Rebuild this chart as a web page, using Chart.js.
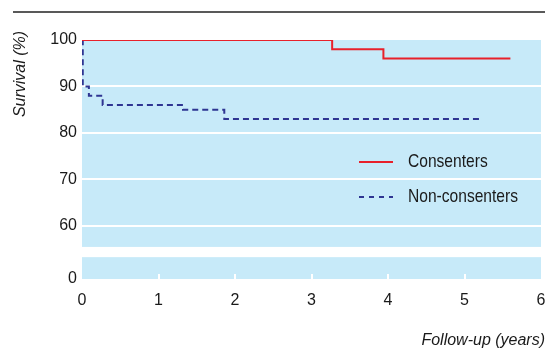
<!DOCTYPE html>
<html>
<head>
<meta charset="utf-8">
<script src="https://cdn.jsdelivr.net/npm/chart.js@4.4.1/dist/chart.umd.min.js"></script>
<style>
    html, body { margin: 0; padding: 0; background: #fff; }
    #wrap { position: relative; width: 545px; height: 349px; }
</style>
</head>
<body>
<div id="wrap"><canvas id="survivalChart"></canvas></div>
<script>
// Kaplan-Meier steps (years, survival %)
const consentersYears = [0, 3.27, 3.94, 5.6];
const consentersSurvival = [100, 98, 96, 96];
const nonConsentersYears = [0, 0.01, 0.09, 0.27, 1.32, 1.86, 5.24];
const nonConsentersSurvival = [100, 90, 88, 86, 85, 83, 83];

const seriesLabels = ['Consenters', 'Non-consenters'];
const xTicks = [0, 1, 2, 3, 4, 5, 6];
const yTicks = [0, 60, 70, 80, 90, 100];

// broken y axis: 0 sits on a short strip below the 55-100 panel
const AXIS_ZERO = 48.6;
const BREAK_LOW = 53.3;
const BREAK_HIGH = 55.5;
const toAxis = v => (v >= BREAK_HIGH ? v : AXIS_ZERO + v);

const FONT = "'Liberation Sans', Arial, sans-serif";
const PANEL_BLUE = '#c7eaf9';
const RED = '#e8212b';
const NAVY = '#2e3592';

document.addEventListener('DOMContentLoaded', () => {
    const ctx = document.getElementById('survivalChart').getContext('2d');

    const toPoints = (xs, ys) => xs.map((x, i) => ({ x: x, y: toAxis(ys[i]) }));

    // 1. background panels, axis break and the rule at the top
    const backdrop = {
        id: 'backdrop',
        beforeDraw(chart) {
            const { ctx, chartArea: a, scales: { y } } = chart;
            ctx.save();
            ctx.fillStyle = PANEL_BLUE;
            const gapTop = y.getPixelForValue(BREAK_HIGH);
            const gapBottom = y.getPixelForValue(BREAK_LOW);
            ctx.fillRect(a.left, a.top, a.right - a.left, gapTop - a.top);
            ctx.fillRect(a.left, gapBottom, a.right - a.left, a.bottom - gapBottom);

            ctx.strokeStyle = '#222';
            ctx.lineWidth = 1.5;
            ctx.beginPath();
            ctx.moveTo(13, 12);
            ctx.lineTo(545, 12);
            ctx.stroke();
            ctx.restore();
        },
        beforeDatasetsDraw(chart) {
            // little white tick marks on the bottom edge
            const { ctx, chartArea: a, scales: { x } } = chart;
            ctx.save();
            ctx.fillStyle = '#fff';
            xTicks.slice(1, -1).forEach(t => {
                ctx.fillRect(Math.round(x.getPixelForValue(t)) - 1, a.bottom - 5, 2, 5);
            });
            ctx.restore();
        },
        afterDraw(chart) {
            const { ctx } = chart;
            ctx.save();
            // legend (condensed look: tall font squeezed sideways)
            const rows = [
                { y: 162, color: RED, dash: [] },
                { y: 197, color: NAVY, dash: [5, 5] }
            ];
            rows.forEach((r, i) => {
                ctx.strokeStyle = r.color;
                ctx.lineWidth = 2;
                ctx.setLineDash(r.dash);
                ctx.beginPath();
                ctx.moveTo(359, r.y);
                ctx.lineTo(393, r.y);
                ctx.stroke();
                ctx.setLineDash([]);

                ctx.save();
                ctx.translate(408, r.y);
                ctx.scale(0.82, 1);
                ctx.fillStyle = '#1a1a1a';
                ctx.font = '19px ' + FONT;
                ctx.textAlign = 'left';
                ctx.textBaseline = 'middle';
                ctx.fillText(seriesLabels[i], 0, 0);
                ctx.restore();
            });

            // axis titles
            ctx.fillStyle = '#1a1a1a';
            ctx.font = 'italic 16px ' + FONT;
            ctx.textAlign = 'right';
            ctx.textBaseline = 'middle';
            ctx.fillText('Follow-up (years)', 545, 341);

            ctx.translate(21, 74);
            ctx.rotate(-Math.PI / 2);
            ctx.textAlign = 'center';
            ctx.fillText('Survival (%)', 0, 0);
            ctx.restore();
        }
    };

    // 2. chart
    new Chart(ctx, {
        type: 'line',
        data: {
            datasets: [{
                label: seriesLabels[0],
                data: toPoints(consentersYears, consentersSurvival),
                borderColor: RED,
                borderWidth: 2,
                pointRadius: 0,
                stepped: 'before',
                fill: false
            }, {
                label: seriesLabels[1],
                data: toPoints(nonConsentersYears, nonConsentersSurvival),
                borderColor: NAVY,
                borderWidth: 2,
                borderDash: [6, 4],
                pointRadius: 0,
                stepped: 'before',
                fill: false
            }]
        },
        options: {
            responsive: true,
            maintainAspectRatio: false,
            animation: false,
            layout: { padding: { top: 40, right: 4, left: 0, bottom: 0 } },
            plugins: {
                legend: { display: false },
                tooltip: { enabled: false }
            },
            scales: {
                x: {
                    type: 'linear',
                    min: 0,
                    max: 6,
                    afterBuildTicks: s => { s.ticks = xTicks.map(v => ({ value: v })); },
                    afterFit: s => { s.height = 70; s.paddingLeft = 0; s.paddingRight = 0; },
                    grid: { display: false },
                    border: { display: false },
                    ticks: {
                        color: '#1a1a1a',
                        padding: 4,
                        font: { family: FONT, size: 16 }
                    }
                },
                y: {
                    min: AXIS_ZERO,
                    max: 100,
                    afterBuildTicks: s => { s.ticks = yTicks.map(v => ({ value: toAxis(v) })); },
                    afterFit: s => { s.width = 82; s.paddingTop = 0; s.paddingBottom = 0; },
                    grid: {
                        drawTicks: false,
                        lineWidth: 2,
                        color: c => (c.tick && c.tick.value > 59 && c.tick.value < 99 ? '#fff' : 'rgba(0,0,0,0)')
                    },
                    border: { display: false },
                    ticks: {
                        color: '#1a1a1a',
                        padding: 5,
                        font: { family: FONT, size: 16 },
                        callback: (val, i) => yTicks[i]
                    }
                }
            }
        },
        plugins: [backdrop]
    });
});
</script>
</body>
</html>
